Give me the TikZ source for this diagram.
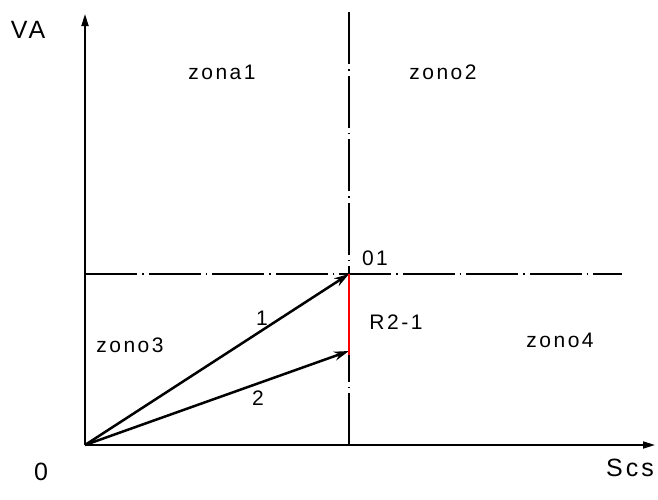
\documentclass[tikz,border=0pt]{standalone}
\usepackage{fontspec}
\setmainfont{Liberation Sans}
\newfontfamily\cadfont[LetterSpace=12]{Liberation Sans}
\definecolor{cadred}{RGB}{255,0,0}
\usetikzlibrary{arrows.meta, positioning}

\begin{document}
\begin{tikzpicture}[
    x=1pt, y=-1pt,
    lbl/.style={inner sep=0pt, font=\cadfont\fontsize{21}{21}\selectfont},
    biglbl/.style={inner sep=0pt, font=\cadfont\fontsize{25}{25}\selectfont},
    axis/.style={line width=1.7pt, -{Triangle[length=12pt,width=7pt]}},
    guide/.style={line width=1.4pt, dash pattern=on 52pt off 5pt on 1.5pt off 5pt},
    vec/.style={line width=2.5pt, -{Stealth[length=15pt,width=9pt]}},
    >=Stealth
]
  \useasboundingbox (0,0) rectangle (658,499);

  % points
  \coordinate (O) at (85,445);
  \coordinate (O1) at (349,274);
  \coordinate (P2) at (349,351);
  \coordinate (ytop) at (85,14);
  \coordinate (xend) at (655,445);
  \coordinate (vtop) at (349,10);
  \coordinate (vbot) at (349,445);
  \coordinate (hend) at (622,274);

  % axes
  \draw[axis] (O) -- (ytop);
  \draw[axis] (O) -- (xend);

  % zone borders
  \draw[guide] (vbot) -- (vtop);
  \draw[guide] (O |- O1) -- (hend);

  % vectors
  \draw[vec] (O) -- (O1);
  \draw[vec] (O) -- (P2);
  \draw[cadred, line width=2.8pt] (O1) -- ([yshift=-4pt]P2);

  % labels
  \node[biglbl] (va) at (28,30) {VA};
  \node[biglbl] (zero) at (41,472) {0};
  \node[biglbl] (scs) at (630,468) {Scs};
  \node[lbl] (z1) at (222,72) {zona1};
  \node[lbl] (z2) at (443,72) {zono2};
  \node[lbl] (z3) at (130,345) {zono3};
  \node[lbl] (z4) at (560,340) {zono4};
  \node[lbl] (o1) at (375,258) {01};
  \node[lbl] (r21) at (396,322) {R2-1};
  \node[lbl] (n1) at (262,318) {1};
  \node[lbl] (n2) at (258,398) {2};
\end{tikzpicture}
\end{document}
